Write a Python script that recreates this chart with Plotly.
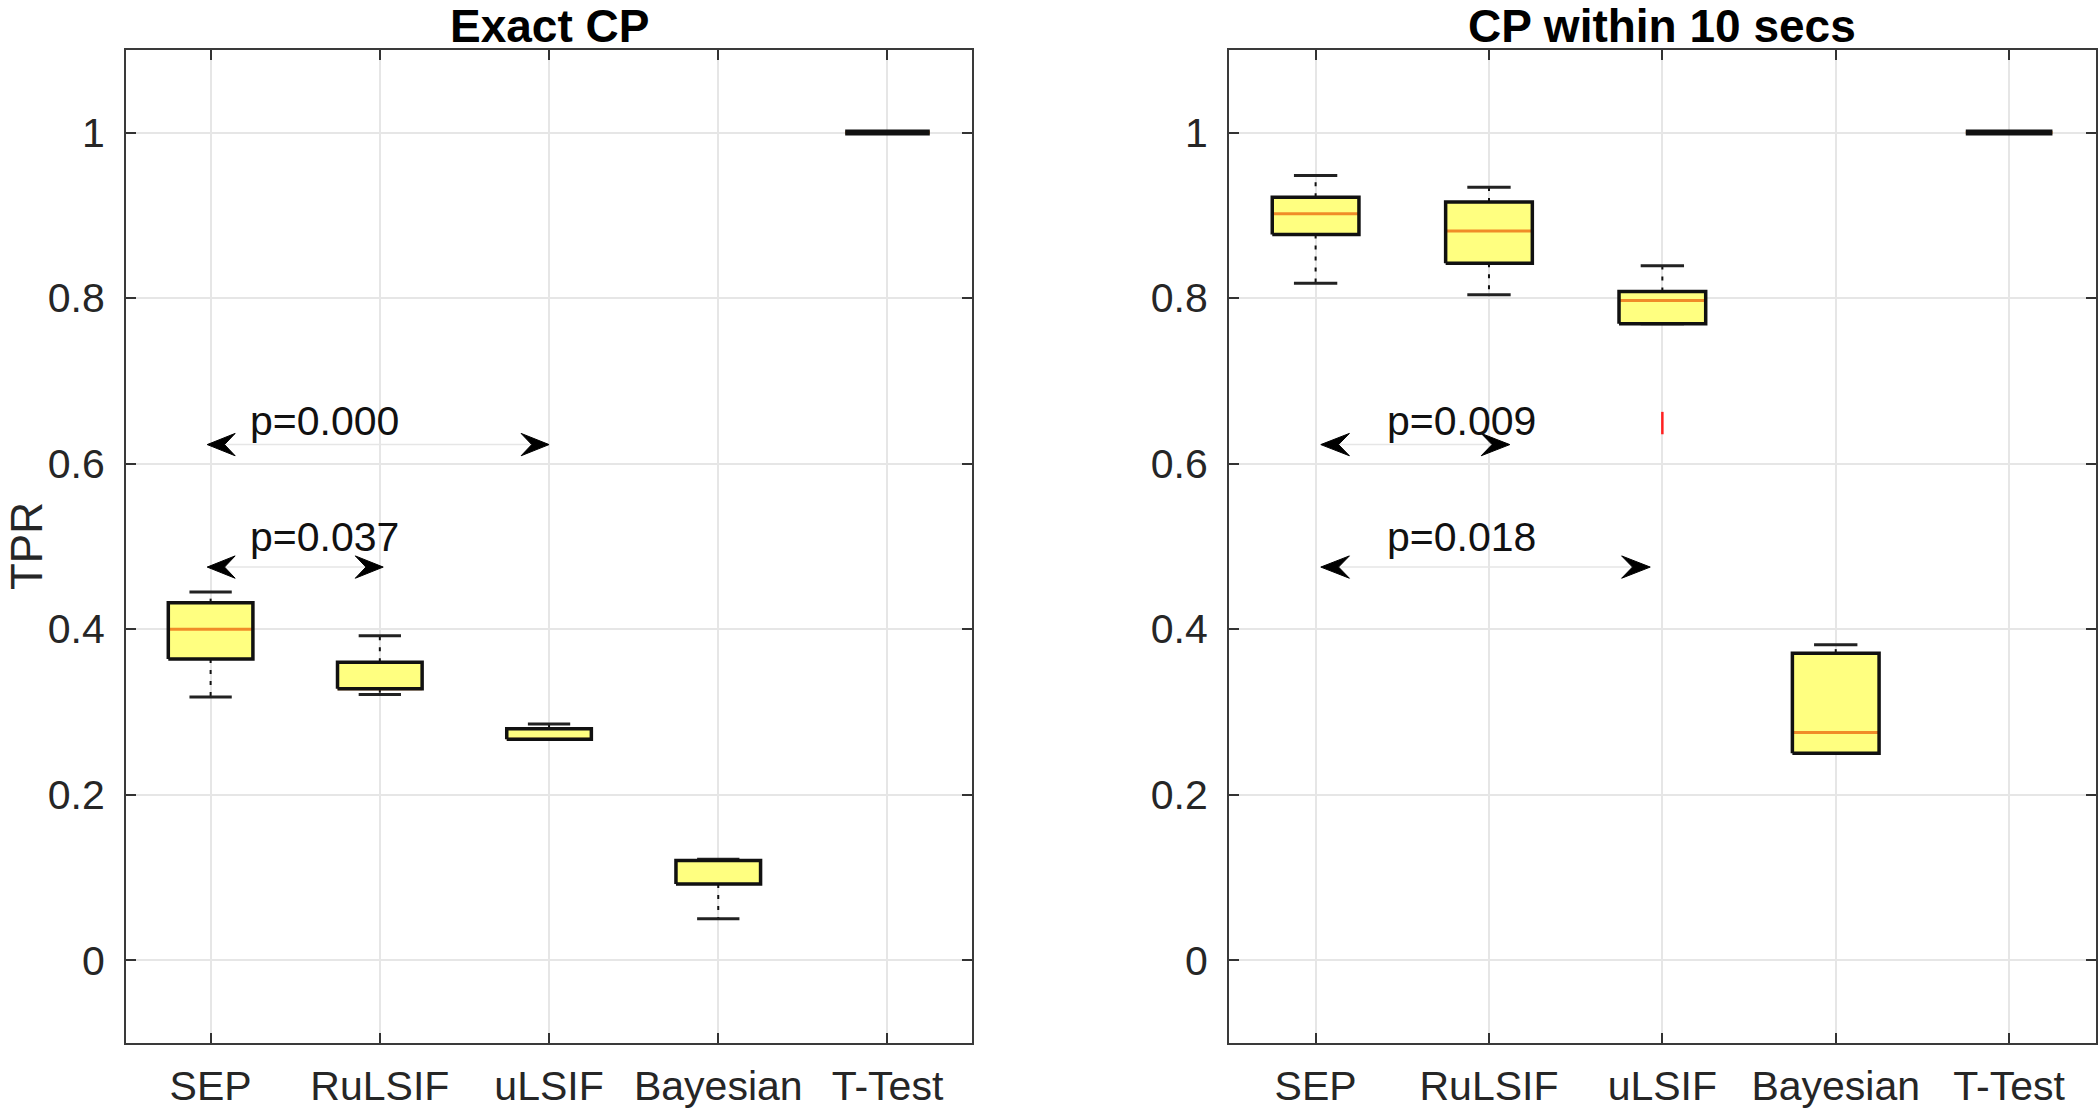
import plotly.graph_objects as go

# categories
methods = ['SEP', 'RuLSIF', 'uLSIF', 'Bayesian', 'T-Test']

# Exact CP: box statistics per method
exact_lower = [0.318, 0.321, 0.267, 0.050, 1.0]
exact_q1 = [0.364, 0.328, 0.267, 0.092, 1.0]
exact_median = [0.400, 0.328, 0.267, 0.1205, 1.0]
exact_q3 = [0.432, 0.360, 0.2795, 0.1205, 1.0]
exact_upper = [0.445, 0.392, 0.2855, 0.122, 1.0]
exact_outliers = [[], [], [], [], []]

# CP within 10 secs
within_lower = [0.818, 0.804, 0.769, 0.250, 1.0]
within_q1 = [0.877, 0.842, 0.769, 0.250, 1.0]
within_median = [0.902, 0.881, 0.797, 0.275, 1.0]
within_q3 = [0.922, 0.916, 0.808, 0.371, 1.0]
within_upper = [0.948, 0.934, 0.839, 0.381, 1.0]
within_outliers = [[], [], [0.649], [], []]

# significance brackets (arrow ends, height, p-value text)
exact_arrow_from = [0.98, 0.98]
exact_arrow_to = [3.0, 2.02]
exact_arrow_y = [0.623, 0.475]
exact_p = ['p=0.000', 'p=0.037']
exact_p_x = [1.22, 1.22]
exact_p_y = [0.651, 0.511]

within_arrow_from = [1.03, 1.03]
within_arrow_to = [2.12, 2.93]
within_arrow_y = [0.623, 0.475]
within_p = ['p=0.009', 'p=0.018']
within_p_x = [1.40, 1.40]
within_p_y = [0.651, 0.511]

yticks = [0, 0.2, 0.4, 0.6, 0.8, 1]
ytick_text = ['0', '0.2', '0.4', '0.6', '0.8', '1']

FONT = 'Liberation Sans, Arial, Helvetica, sans-serif'
BOX_FILL = '#ffff80'
MEDIAN = '#f08c28'
BOX_HALF = 0.25
CAP_HALF = 0.125
HEAD_LEN = 0.165
HEAD_H = 0.0135

W, H = 2100, 1112
LEFT_DOM = [0.0600, 0.4629]
RIGHT_DOM = [0.5852, 0.9980]
Y_DOM = [0.0621, 0.9552]

fig = go.Figure()


def add_boxes(lower, q1, med, q3, upper, outliers, xa, ya):
    for i in range(len(methods)):
        x = i + 1
        fig.add_trace(go.Scatter(x=[x, x, None, x, x], y=[q3[i], upper[i], None, q1[i], lower[i]],
                                 mode='lines', line=dict(color='#111111', width=2, dash='4px,7px'),
                                 xaxis=xa, yaxis=ya, hoverinfo='skip', showlegend=False))
        fig.add_trace(go.Scatter(x=[x - CAP_HALF, x + CAP_HALF, None, x - CAP_HALF, x + CAP_HALF],
                                 y=[upper[i], upper[i], None, lower[i], lower[i]],
                                 mode='lines', line=dict(color='#222222', width=3),
                                 xaxis=xa, yaxis=ya, hoverinfo='skip', showlegend=False))
        bx = [x - BOX_HALF, x + BOX_HALF, x + BOX_HALF, x - BOX_HALF, x - BOX_HALF]
        by = [q1[i], q1[i], q3[i], q3[i], q1[i]]
        fig.add_trace(go.Scatter(x=bx, y=by, mode='lines', fill='toself', fillcolor=BOX_FILL,
                                 line=dict(width=0, color=BOX_FILL),
                                 xaxis=xa, yaxis=ya, hoverinfo='skip', showlegend=False))
        fig.add_trace(go.Scatter(x=[x - BOX_HALF, x + BOX_HALF], y=[med[i], med[i]], mode='lines',
                                 line=dict(color=MEDIAN, width=3),
                                 xaxis=xa, yaxis=ya, hoverinfo='skip', showlegend=False))
        # a zero-height box collapses to one thick line
        outline_w = 3.5 if q3[i] > q1[i] else 6
        fig.add_trace(go.Scatter(x=bx, y=by, mode='lines', line=dict(color='#111111', width=outline_w),
                                 xaxis=xa, yaxis=ya, hoverinfo='skip', showlegend=False))
        if outliers[i]:
            fig.add_trace(go.Scatter(x=[x] * len(outliers[i]), y=outliers[i], mode='markers',
                                     marker=dict(symbol='line-ns', size=16,
                                                 line=dict(color='#ff2020', width=2.5)),
                                     xaxis=xa, yaxis=ya, hoverinfo='skip', showlegend=False))


def add_brackets(x0s, x1s, ys, texts, tx, ty, xr, yr):
    for x0, x1, y, t, px, py in zip(x0s, x1s, ys, texts, tx, ty):
        fig.add_shape(type='line', x0=x0, x1=x1, y0=y, y1=y, xref=xr, yref=yr,
                      line=dict(color='#e6e6e6', width=1.5))
        for tip, d in ((x0, 1), (x1, -1)):
            path = (f'M {tip},{y} L {tip + d * HEAD_LEN},{y + HEAD_H} '
                    f'L {tip + d * HEAD_LEN * 0.62},{y} L {tip + d * HEAD_LEN},{y - HEAD_H} Z')
            fig.add_shape(type='path', path=path, xref=xr, yref=yr,
                          fillcolor='black', line=dict(color='black', width=1))
        fig.add_annotation(x=px, y=py, xref=xr, yref=yr, text=t, showarrow=False,
                           xanchor='left', yanchor='middle',
                           font=dict(family=FONT, size=41, color='#111111'))


add_boxes(exact_lower, exact_q1, exact_median, exact_q3, exact_upper, exact_outliers, 'x', 'y')
add_boxes(within_lower, within_q1, within_median, within_q3, within_upper, within_outliers, 'x2', 'y2')
add_brackets(exact_arrow_from, exact_arrow_to, exact_arrow_y, exact_p, exact_p_x, exact_p_y, 'x', 'y')
add_brackets(within_arrow_from, within_arrow_to, within_arrow_y, within_p, within_p_x, within_p_y, 'x2', 'y2')

axis_common = dict(showgrid=True, gridcolor='#e6e6e6', gridwidth=1.5, zeroline=False,
                   showline=True, linecolor='#3a3a3a', linewidth=2, mirror='allticks',
                   ticks='inside', ticklen=10, tickwidth=2, tickcolor='#333333',
                   automargin=False)

xcommon = dict(axis_common, range=[0.5, 5.5], tickvals=[1, 2, 3, 4, 5], ticktext=methods,
               ticklabelstandoff=6, tickfont=dict(family=FONT, size=41, color='#262626'))
ycommon = dict(axis_common, range=[-0.1, 1.1], tickvals=yticks, ticktext=ytick_text,
               ticklabelstandoff=11, tickfont=dict(family=FONT, size=41, color='#262626'))

fig.update_layout(
    width=W, height=H,
    margin=dict(l=0, r=0, t=0, b=0, autoexpand=False),
    paper_bgcolor='white', plot_bgcolor='white',
    showlegend=False,
    xaxis=dict(xcommon, domain=LEFT_DOM, anchor='y'),
    yaxis=dict(ycommon, domain=Y_DOM, anchor='x'),
    xaxis2=dict(xcommon, domain=RIGHT_DOM, anchor='y2'),
    yaxis2=dict(ycommon, domain=Y_DOM, anchor='x2'),
)

fig.add_annotation(x=sum(LEFT_DOM) / 2, y=0.9765, xref='paper', yref='paper',
                   text='<b>Exact CP</b>', showarrow=False, xanchor='center', yanchor='middle',
                   font=dict(family=FONT, size=46, color='black'))
fig.add_annotation(x=sum(RIGHT_DOM) / 2, y=0.9765, xref='paper', yref='paper',
                   text='<b>CP within 10 secs</b>', showarrow=False, xanchor='center', yanchor='middle',
                   font=dict(family=FONT, size=46, color='black'))
fig.add_annotation(x=0.0129, y=0.509, xref='paper', yref='paper', text='TPR',
                   textangle=-90, showarrow=False, xanchor='center', yanchor='middle',
                   font=dict(family=FONT, size=44, color='#262626'))

# drop the browser's default body margin so the figure fills the window exactly
fig.write_html('out.html', config={'displayModeBar': False},
               post_script="document.body.style.margin = '0';")
